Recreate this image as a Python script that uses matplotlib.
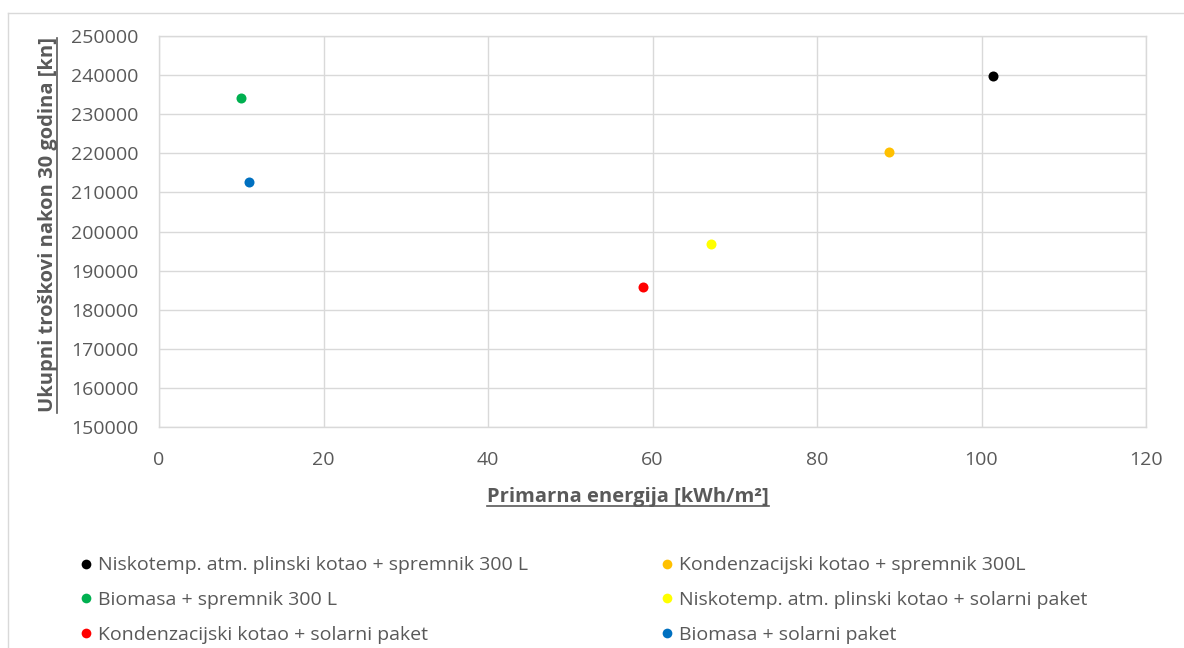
import matplotlib
matplotlib.use("Agg")
import matplotlib.pyplot as plt
from matplotlib.lines import Line2D

plt.rcParams['font.family'] = ['Open Sans', 'DejaVu Sans']

# Data
series_names = [
    "Niskotemp. atm. plinski kotao + spremnik 300 L",
    "Biomasa + spremnik 300 L",
    "Kondenzacijski kotao + solarni paket",
    "Kondenzacijski kotao + spremnik 300L",
    "Niskotemp. atm. plinski kotao + solarni paket",
    "Biomasa + solarni paket",
]
primary_energy = [101.4, 10.0, 58.9, 88.8, 67.1, 10.9]
total_cost = [239800, 234200, 185800, 220400, 196900, 212700]
colors = ["#000000", "#00B050", "#FF0000", "#FFC000", "#FFFF00", "#0070C0"]

x_ticks = [0, 20, 40, 60, 80, 100, 120]
y_ticks = list(range(150000, 250001, 10000))

W, H = 1184, 648
fig = plt.figure(figsize=(W / 100, H / 100), dpi=100)

ax = fig.add_axes([159 / W, 1 - 427 / H, (1146 - 159) / W, (427 - 36) / H])
grid_c = "#d9d9d9"
text_c = "#595959"

for xv, yv, c, n in zip(primary_energy, total_cost, colors, series_names):
    ax.scatter([xv], [yv], s=52, color=c, label=n, zorder=3, linewidths=0)

ax.set_xlim(0, 120)
ax.set_ylim(150000, 250000)
ax.set_xticks(x_ticks)
ax.set_yticks(y_ticks)
ax.grid(True, color=grid_c, linewidth=1)
ax.set_axisbelow(True)
for s in ax.spines.values():
    s.set_color(grid_c)
    s.set_linewidth(1)
ax.tick_params(axis='both', length=0, labelsize=14, labelcolor=text_c)
ax.tick_params(axis='x', pad=17)
ax.tick_params(axis='y', pad=15)

# Axis labels (bold, underlined)
xl = fig.text(628 / W, 1 - 497 / H, "Primarna energija [kWh/m²]", ha='center', va='center',
              fontsize=14.5, fontweight='bold', color=text_c)
yl = fig.text(48 / W, 1 - 225 / H, "Ukupni troškovi nakon 30 godina [kn]", ha='center', va='center',
              rotation=90, fontsize=14.5, fontweight='bold', color=text_c)

# Legend
handles = [Line2D([0], [0], marker='o', linestyle='none', markersize=7,
                  markerfacecolor=c, markeredgewidth=0) for c in colors]
leg = fig.legend(handles, series_names, ncol=2, loc='upper left',
                 bbox_to_anchor=(63 / W, 1 - 539 / H), frameon=False,
                 fontsize=14, labelcolor=text_c, handlelength=0.6,
                 handletextpad=0.3, columnspacing=6.85, labelspacing=0.85)

# Outer chart frame
fig.add_artist(Line2D([8 / W, 1.0], [1 - 13 / H, 1 - 13 / H], transform=fig.transFigure,
                      color=grid_c, linewidth=1))
fig.add_artist(Line2D([8 / W, 8 / W], [1 - 13 / H, 0], transform=fig.transFigure,
                      color=grid_c, linewidth=1))

# Underlines
fig.canvas.draw()
r = fig.canvas.get_renderer()
bb = xl.get_window_extent(r)
yy = (bb.y0 + 1) / H
fig.add_artist(Line2D([bb.x0 / W, bb.x1 / W], [yy, yy], transform=fig.transFigure,
                      color=text_c, linewidth=1.2))
bb = yl.get_window_extent(r)
xx = (bb.x1 - 1) / W
fig.add_artist(Line2D([xx, xx], [bb.y0 / H, bb.y1 / H], transform=fig.transFigure,
                      color=text_c, linewidth=1.2))

fig.savefig("out.png", dpi=100)
